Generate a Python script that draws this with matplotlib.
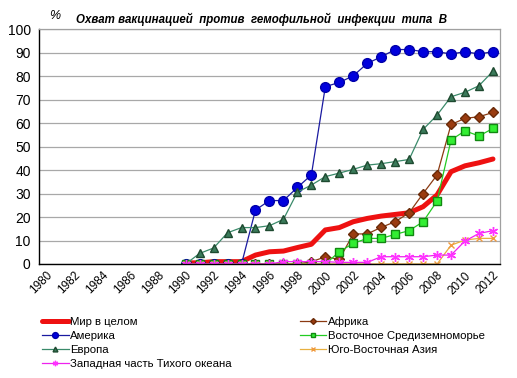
import numpy as np
import matplotlib
matplotlib.use("Agg")
import matplotlib.pyplot as plt

plt.rcParams['font.family'] = ['Liberation Sans', 'DejaVu Sans']

# Годы по оси X (категории)
years = list(range(1980, 2013))
data_years = list(range(1990, 2013))
tick_years = list(range(1980, 2013, 2))

# Охват вакцинацией, % (1990-2012)
world = [0.5, 0.5, 1, 1, 1, 3.8, 5.2, 5.5, 7, 8.4, 14.5, 15.5, 18, 19.4,
         20.4, 21.1, 21.8, 24.4, 29.4, 39.3, 41.8, 43.1, 44.7]
africa = [0, 0, 0, 0, 0, 0, 0, 0, 0, 1, 3, 2, 12.8, 12.8, 15.6, 18, 21.8,
          30, 37.9, 59.4, 62, 62.7, 64.5]
america = [0, 0, 0, 0, 0, 23, 27, 27, 32.6, 37.9, 75.5, 77.3, 80.1, 85.4,
           88.2, 91.3, 91.3, 90.4, 90.4, 89.4, 90.4, 89.4, 90.4]
east_med = [0, 0, 0, 0, 0, 0, 0, 0, 0, 0, 0, 5.2, 8.8, 10.9, 10.9, 12.6,
            14.2, 18, 26.8, 52.8, 56.7, 54.5, 57.7]
europe = [0, 4.5, 6.8, 13.3, 15.5, 15.5, 16.3, 19, 30.6, 33.6, 37.2, 38.7,
          40.3, 42.1, 42.7, 43.6, 44.5, 57.3, 63.4, 71.2, 73.1, 75.9, 82.1]
se_asia = [0, 0, 0, 0, 0, 0, 0, 0, 0, 0, 0, 0, 0, 0, 0, 0, 0, 0, 0, 8,
           10.2, 10.9, 10.9]
w_pacific = [0, 0, 0, 0, 0, 0, 0, 1, 1, 1, 1, 0.7, 0.7, 0.7, 3.1, 3.1, 3.1,
             3.1, 3.8, 3.8, 9.8, 13, 14.2]

fig = plt.figure(figsize=(5.17, 3.78), dpi=100)
ax = fig.add_axes([0.0754, 0.3016, 0.8916, 0.6214])

# Рисуем серии в порядке Excel (последние сверху)
h_world, = ax.plot(data_years, world, color='#ee1111', lw=3.6,
                   solid_capstyle='round', label='Мир в целом')
h_africa, = ax.plot(data_years, africa, color='#8b3a12', lw=0.9, marker='D',
                    ms=5, mfc='#9a3c10', mec='#6a2a08', label='Африка')
h_america, = ax.plot(data_years, america, color='#1a1aa0', lw=0.9, marker='o',
                     ms=7, mfc='#0000dd', mec='#0000aa', label='Америка')
h_emed, = ax.plot(data_years, east_med, color='#22cc22', lw=0.9, marker='s',
                  ms=5.2, mfc='#33ee33', mec='#118811',
                  label='Восточное Средиземноморье')
h_europe, = ax.plot(data_years, europe, color='#3a8a6a', lw=0.9, marker='^',
                    ms=5.8, mfc='#3a7a5a', mec='#1e4a30', label='Европа')
h_seasia, = ax.plot(data_years, se_asia, color='#e8b040', lw=0.9, marker='x',
                    ms=5, mew=1, mec='#f09a40', label='Юго-Восточная Азия')
h_wpac, = ax.plot(data_years, w_pacific, color='#ee22ee', lw=0.9, marker=(6, 2, 0),
                  ms=6.5, mew=1, mec='#ff33ff', label='Западная часть Тихого океана')

ax.set_xlim(1979.5, 2012.5)
ax.set_ylim(0, 100)
ax.set_yticks(range(0, 101, 10))
ax.set_xticks(tick_years)
ax.set_xticklabels([str(y) for y in tick_years], rotation=45, ha='right',
                   rotation_mode='anchor', fontsize=8.5)
ax.tick_params(axis='y', labelsize=10, length=0, pad=6)
ax.tick_params(axis='x', length=0, pad=4)
ax.yaxis.grid(True, color='#a8a8a8', lw=0.9)
ax.set_axisbelow(True)

for side in ['top', 'right']:
    ax.spines[side].set_color('#a0a0a0')
    ax.spines[side].set_linewidth(0.9)
for side in ['left', 'bottom']:
    ax.spines[side].set_color('black')
    ax.spines[side].set_linewidth(1)

fig.text(0.505, 0.95, 'Охват вакцинацией  против  гемофильной  инфекции  типа  В',
         ha='center', va='center', fontsize=8.3, fontweight='bold', style='italic')
fig.text(0.106, 0.957, '%', ha='center', va='center', fontsize=9, style='italic')

# Легенда в две колонки под графиком, маркеры мельче
handles = [h_world, h_america, h_europe, h_wpac, h_africa, h_emed, h_seasia]
leg = fig.legend(handles=handles, labels=[h.get_label() for h in handles],
                 loc='upper left', ncol=2, frameon=False, fontsize=8.2,
                 handlelength=2.3, handletextpad=0.15, columnspacing=6.0,
                 labelspacing=0.36, borderaxespad=0, borderpad=0,
                 markerscale=0.6)
leg.set_bbox_to_anchor((0.082, 0.163), transform=fig.transFigure)

fig.savefig('out.png', dpi=100)
